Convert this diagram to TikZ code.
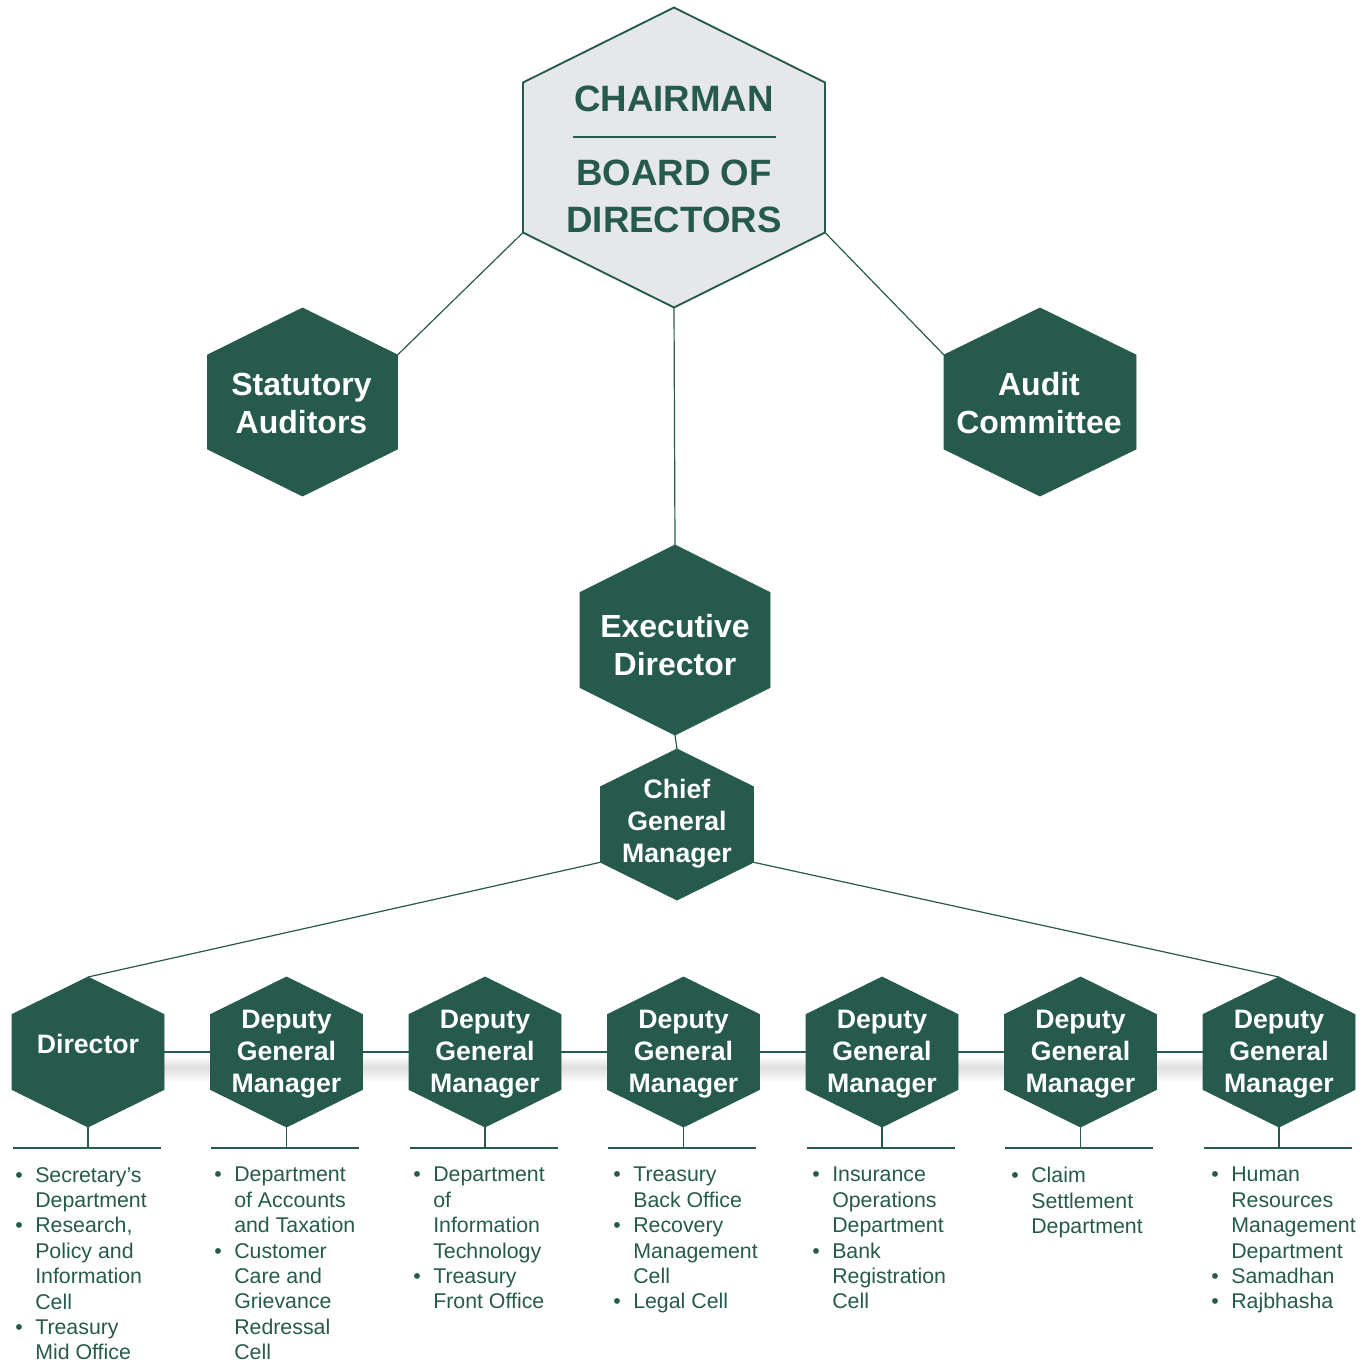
\documentclass[tikz,border=0pt]{standalone}
\usepackage{fontspec}
\setmainfont{Liberation Sans}
\definecolor{hexgreen}{RGB}{38,90,76}
\definecolor{hexgrey}{RGB}{230,231,232}

% a pointy-top hexagon with named corner coordinates
% #1 name, #2 centre x, #3 centre y, #4 half width, #5 half height, #6 style
\newcommand\hexa[6]{%
  \coordinate (#1-t)  at (#2,{#3-#5});
  \coordinate (#1-b)  at (#2,{#3+#5});
  \coordinate (#1-ul) at ({#2-#4},{#3-#5/2});
  \coordinate (#1-ll) at ({#2-#4},{#3+#5/2});
  \coordinate (#1-ur) at ({#2+#4},{#3-#5/2});
  \coordinate (#1-lr) at ({#2+#4},{#3+#5/2});
  \coordinate (#1-w)  at ({#2-#4},#3);
  \coordinate (#1-e)  at ({#2+#4},#3);
  \coordinate (#1-foot) at (#2,1148);
  \draw[#6] (#1-t) -- (#1-ur) -- (#1-lr) -- (#1-b) -- (#1-ll) -- (#1-ul) -- cycle;
}
\newcommand\dutyitem[1]{\makebox[15pt][l]{\textbullet}#1}
\newcommand\dutycont[1]{\hspace*{15pt}#1}

\tikzset{
  link/.style={draw=hexgreen, line width=0.9pt},
  darkhex/.style={fill=hexgreen, draw=hexgreen, line width=0.6pt},
  lighthex/.style={fill=hexgrey, draw=hexgreen, line width=1.4pt},
  toptitle/.style={text=hexgreen, font=\bfseries\fontsize{27.5}{35}\selectfont, align=center, inner sep=0},
  bigtitle/.style={text=white, font=\bfseries\fontsize{24}{28.5}\selectfont, align=center, inner sep=0},
  midtitle/.style={text=white, font=\bfseries\fontsize{20}{24}\selectfont, align=center, inner sep=0},
  duties/.style={text=hexgreen, font=\fontsize{16}{19.05}\selectfont, align=left, anchor=north west, inner sep=0},
}

\begin{document}
\begin{tikzpicture}[x=0.75pt, y=-0.75pt]
\useasboundingbox (0,0) rectangle (1370,1365);

% soft shadow under the manager row
\shade[top color=white, bottom color=black!13] (12,1056) rectangle (1355,1067);
\shade[top color=black!13, bottom color=white] (12,1067) rectangle (1355,1083);

% hexagons
\hexa{top}{674}{157.5}{151}{150}{lighthex}
\hexa{sa}{302.5}{402}{95}{94}{darkhex}
\hexa{ac}{1040}{402}{96}{94}{darkhex}
\hexa{ed}{675}{640}{95}{95}{darkhex}
\hexa{cgm}{677}{824.5}{76.5}{75.5}{darkhex}
\foreach \i/\cx in {0/88,1/286.5,2/485,3/683.5,4/882,5/1080.5,6/1279}{
  \hexa{d\i}{\cx}{1052}{76}{75}{darkhex}
}

% titles
\node[toptitle] (chair) at (674,99) {CHAIRMAN};
\coordinate (sepL) at (573,137);
\coordinate (sepR) at (776,137);
\draw[hexgreen, line width=1.5pt] (sepL) -- (sepR);
\node[toptitle] (bod) at (674,196.5) {BOARD OF\\DIRECTORS};
\node[bigtitle] (sat) at (301.5,403.5) {Statutory\\Auditors};
\node[bigtitle] (act) at (1039,403) {Audit\\Committee};
\node[bigtitle] (edt) at (675,645) {Executive\\Director};
\node[midtitle] (cgmt) at (677,824) {Chief\\General\\Manager};
\node[midtitle] (t0) at (88,1044) {Director};
\foreach \i/\cx in {1/286.5,2/485,3/683.5,4/882,5/1080.5,6/1279}{
  \node[midtitle] (t\i) at (\cx,1054) {Deputy\\General\\Manager};
}

% connectors
\draw[link] (top-ll) -- (sa-ur);
\draw[link] (top-lr) -- (ac-ul);
\draw[link] (top-b) -- (ed-t);
\draw[link] (ed-b) -- (cgm-t);
\draw[link] (cgm-ll) -- (d0-t);
\draw[link] (cgm-lr) -- (d6-t);
\foreach \a/\b in {0/1,1/2,2/3,3/4,4/5,5/6}{
  \draw[link] (d\a-e) -- (d\b-w);
}
\foreach \i in {0,...,6}{
  \draw[link] (d\i-b) -- (d\i-foot);
  \draw[link] ([xshift=-56.5pt]d\i-foot) -- ([xshift=54.5pt]d\i-foot);
}

% departments under each head
\node[duties] (l0) at (15,1167) {\dutyitem{Secretary’s}\\\dutycont{Department}\\
  \dutyitem{Research,}\\\dutycont{Policy and}\\\dutycont{Information}\\\dutycont{Cell}\\
  \dutyitem{Treasury}\\\dutycont{Mid Office}};
\node[duties] (l1) at (214,1167) {\dutyitem{Department}\\\dutycont{of Accounts}\\\dutycont{and Taxation}\\
  \dutyitem{Customer}\\\dutycont{Care and}\\\dutycont{Grievance}\\\dutycont{Redressal}\\\dutycont{Cell}};
\node[duties] (l2) at (413,1167) {\dutyitem{Department}\\\dutycont{of}\\\dutycont{Information}\\\dutycont{Technology}\\
  \dutyitem{Treasury}\\\dutycont{Front Office}};
\node[duties] (l3) at (613,1167) {\dutyitem{Treasury}\\\dutycont{Back Office}\\
  \dutyitem{Recovery}\\\dutycont{Management}\\\dutycont{Cell}\\
  \dutyitem{Legal Cell}};
\node[duties] (l4) at (812,1167) {\dutyitem{Insurance}\\\dutycont{Operations}\\\dutycont{Department}\\
  \dutyitem{Bank}\\\dutycont{Registration}\\\dutycont{Cell}};
\node[duties] (l5) at (1011,1167) {\dutyitem{Claim}\\\dutycont{Settlement}\\\dutycont{Department}};
\node[duties] (l6) at (1211,1167) {\dutyitem{Human}\\\dutycont{Resources}\\\dutycont{Management}\\\dutycont{Department}\\
  \dutyitem{Samadhan}\\
  \dutyitem{Rajbhasha}};
\end{tikzpicture}
\end{document}
